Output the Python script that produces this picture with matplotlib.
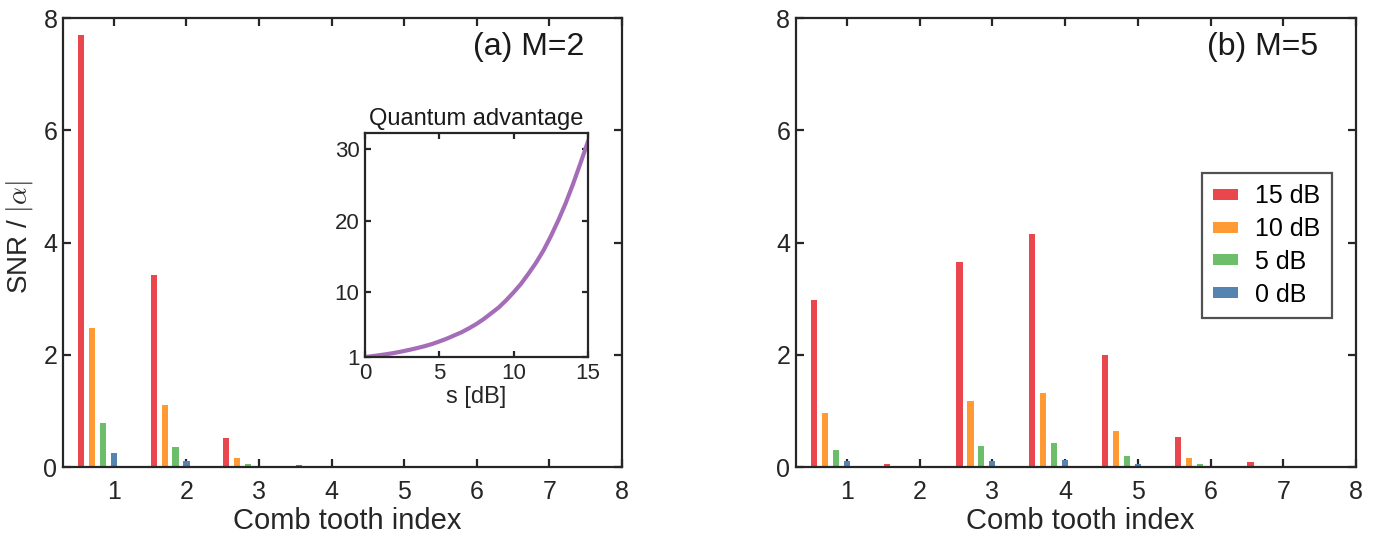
import matplotlib
matplotlib.use("Agg")
import matplotlib.pyplot as plt
import numpy as np

plt.rcParams['font.family'] = ['Liberation Sans', 'DejaVu Sans']
plt.rcParams['mathtext.fontset'] = 'cm'

teeth = [1, 2, 3, 4, 5, 6, 7, 8]
squeeze_labels = ['15 dB', '10 dB', '5 dB', '0 dB']
colors = ['#E9474D', '#FF9A35', '#6DBE6A', '#5584B0']

# Panel (a) M=2
a_15 = [7.70, 3.42, 0.52, 0.03, 0.0, 0.0, 0.0, 0.0]
a_10 = [2.48, 1.10, 0.16, 0.005, 0.0, 0.0, 0.0, 0.0]
a_5 = [0.78, 0.36, 0.05, 0.0, 0.0, 0.0, 0.0, 0.0]
a_0 = [0.25, 0.10, 0.015, 0.0, 0.0, 0.0, 0.0, 0.0]

# Panel (b) M=5
b_15 = [2.98, 0.06, 3.65, 4.15, 2.00, 0.53, 0.09, 0.0]
b_10 = [0.96, 0.01, 1.18, 1.32, 0.64, 0.17, 0.02, 0.0]
b_5 = [0.30, 0.0, 0.37, 0.42, 0.20, 0.05, 0.0, 0.0]
b_0 = [0.10, 0.0, 0.11, 0.13, 0.06, 0.015, 0.0, 0.0]

# Inset: quantum advantage vs squeezing s [dB]
s_db = [0, 0.5, 1, 1.5, 2, 2.5, 3, 3.5, 4, 4.5, 5, 5.5, 6, 6.5, 7, 7.5,
        8, 8.5, 9, 9.5, 10, 10.5, 11, 11.5, 12, 12.5, 13, 13.5, 14, 14.5, 15]
advantage = [1.0, 1.12, 1.26, 1.41, 1.58, 1.78, 2.0, 2.24, 2.5, 2.8, 3.16,
             3.55, 4.0, 4.45, 5.0, 5.6, 6.3, 7.1, 7.9, 8.9, 10.0, 11.2, 12.6,
             14.1, 15.8, 17.8, 20.0, 22.4, 25.1, 28.0, 31.0]

offsets = [-0.45, -0.30, -0.15, 0.0]
bar_w = 0.085
spine_c = '#262626'

fig = plt.figure(figsize=(13.73, 5.35), dpi=100)
axA = fig.add_axes([0.0459, 0.127, 0.4071, 0.839])
axB = fig.add_axes([0.5797, 0.127, 0.4079, 0.839])


def style(ax, fs=18, tl=6, pad=4):
    for sp in ax.spines.values():
        sp.set_color(spine_c)
        sp.set_linewidth(1.6)
    ax.tick_params(direction='in', top=True, right=True, labelsize=fs,
                   length=tl, width=1.6, color=spine_c, labelcolor='#262626',
                   pad=pad)


for ax, series, tag in [(axA, [a_15, a_10, a_5, a_0], '(a) M=2'),
                        (axB, [b_15, b_10, b_5, b_0], '(b) M=5')]:
    x = np.array(teeth, dtype=float)
    for vals, off, c, lab in zip(series, offsets, colors, squeeze_labels):
        ax.bar(x + off, vals, width=bar_w, color=c, label=lab, zorder=2)
    ax.set_xlim(0.3, 8)
    ax.set_ylim(0, 8)
    ax.set_xticks(teeth)
    ax.set_yticks([0, 2, 4, 6, 8])
    style(ax)
    ax.tick_params(axis='x', pad=9)
    ax.set_xlabel('Comb tooth index', fontsize=21, color='#262626')
    ax.xaxis.set_label_coords(0.508, -0.088)
    ax.text(0.933, 0.935, tag, transform=ax.transAxes, ha='right', va='center',
            fontsize=23, color='#1a1a1a')

axA.set_ylabel(r'SNR / $|\alpha|$', fontsize=20, color='#262626')
axA.yaxis.set_label_coords(-0.05, 0.513)

leg = axB.legend(loc='upper right', bbox_to_anchor=(0.957, 0.655), fontsize=18,
                 frameon=True, fancybox=False, edgecolor=spine_c,
                 handlelength=1.0, handleheight=0.3, handletextpad=0.7,
                 borderpad=0.45, labelspacing=0.35, borderaxespad=0)
leg.get_frame().set_linewidth(1.6)

ins = fig.add_axes([0.2658, 0.3327, 0.1624, 0.4187])
ins.plot(s_db, advantage, color='#A56DB8', lw=3)
ins.set_xlim(0, 15)
ins.set_ylim(1, 32.2)
ins.set_xticks([0, 5, 10, 15])
ins.set_yticks([1, 10, 20, 30])
style(ins, fs=16, tl=4)
ins.set_xlabel('s [dB]', fontsize=17, color='#262626', labelpad=2)
ins.set_title('Quantum advantage', fontsize=17, color='#1a1a1a', pad=6)

fig.savefig('out.png', dpi=100)
